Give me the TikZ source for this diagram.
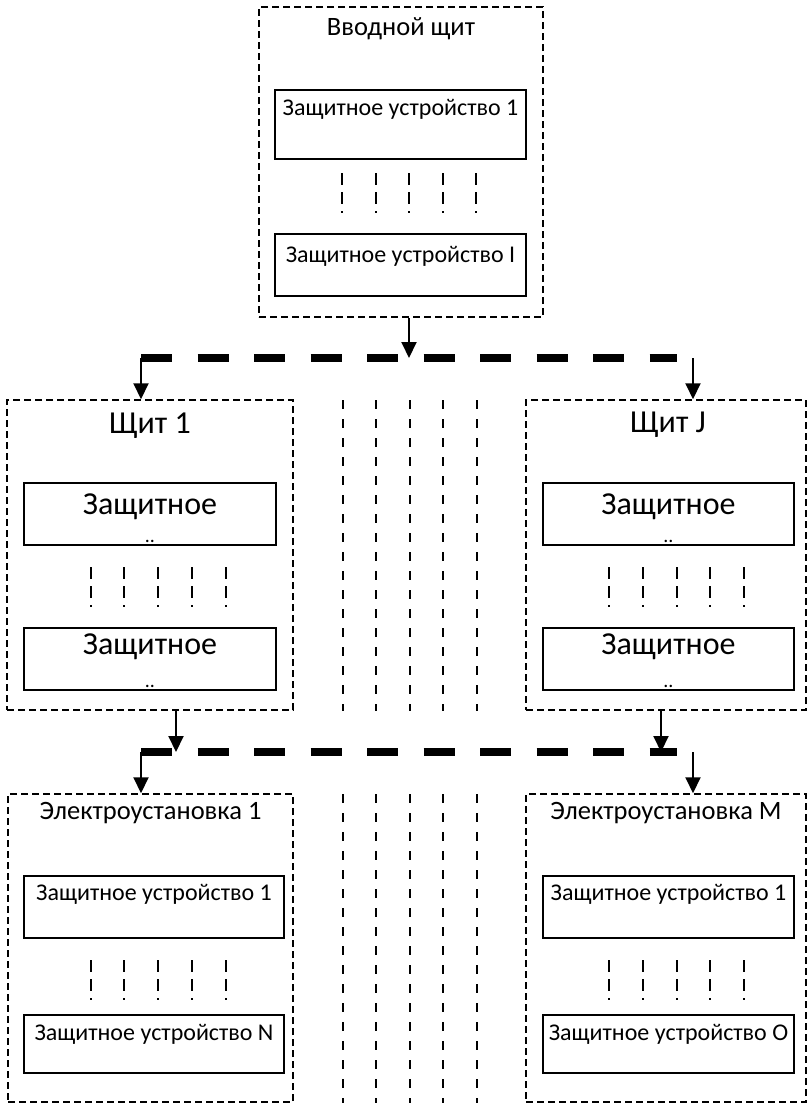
\documentclass[tikz,border=0pt]{standalone}
\usepackage{fontspec}
\setmainfont{Carlito}
\usetikzlibrary{arrows.meta}

\begin{document}
\begin{tikzpicture}[x=1pt,y=-1pt,
  panel/.style={draw,dash pattern=on 7pt off 4pt,line width=1.5pt,inner sep=0pt},
  dev/.style={draw,line width=1.8pt,inner sep=0pt,minimum width=251pt,minimum height=62pt},
  head/.style={anchor=north,inner sep=0pt,font=\fontsize{26.5}{31}\selectfont},
  bighead/.style={anchor=north,inner sep=0pt,font=\fontsize{32}{37}\selectfont},
  devname/.style={anchor=north,inner sep=0pt,font=\fontsize{24}{29}\selectfont},
  cut/.style={anchor=south,inner sep=0pt,font=\fontsize{20}{22}\selectfont},
  bus/.style={line width=7.5pt,dash pattern=on 31pt off 25.5pt},
  feed/.style={line width=2pt,-{Triangle[length=16pt,width=15pt]}},
  etc/.style={line width=2.5pt,dash pattern=on 12pt off 7pt},
  trunk/.style={line width=2.5pt,dash pattern=on 9pt off 10pt}]
\useasboundingbox[fill=white] (0,0) rectangle (807,1103);

% вводной щит
\node[panel,minimum width=284pt,minimum height=310pt] (vvod) at (401,162) {};
\node[head] (vvodt) at ([yshift=-11pt]vvod.north) {Вводной щит};
\node[dev,minimum height=69pt] (d11) at (400.5,124.5) {};
\node[devname] (d11t) at ([yshift=-10pt]d11.north) {Защитное устройство 1};
\node[dev] (d12) at (400.5,265) {};
\node[devname] (d12t) at ([yshift=-13pt]d12.north) {Защитное устройство I};
\foreach \x in {342,376,409,443,476} \draw[etc] (\x,173) -- (\x,213);

% щиты
\node[panel,minimum width=286pt,minimum height=310pt] (shch1) at (150,555) {};
\node[bighead] (shch1t) at ([yshift=-13pt]shch1.north) {Щит 1};
\node[dev,minimum width=252pt] (d21) at (150,514) {};
\node[bighead] (d21t) at ([yshift=-11pt]d21.north) {Защитное};
\node[cut] (d21c) at ([yshift=3pt]d21.south) {..};
\node[dev,minimum width=252pt] (d22) at (150,659) {};
\node[bighead] (d22t) at ([yshift=-6pt]d22.north) {Защитное};
\node[cut] (d22c) at ([yshift=3pt]d22.south) {..};
\foreach \x in {91,124,158,192,226} \draw[etc] (\x,567) -- (\x,607);

\node[panel,minimum width=280pt,minimum height=310pt] (shchJ) at (666,555) {};
\node[bighead] (shchJt) at ([yshift=-13pt,xshift=2pt]shchJ.north) {Щит J};
\node[dev] (d31) at (668.5,514) {};
\node[bighead] (d31t) at ([yshift=-11pt]d31.north) {Защитное};
\node[cut] (d31c) at ([yshift=3pt]d31.south) {..};
\node[dev] (d32) at (668.5,659) {};
\node[bighead] (d32t) at ([yshift=-6pt]d32.north) {Защитное};
\node[cut] (d32c) at ([yshift=3pt]d32.south) {..};
\foreach \x in {609,643,677,710,744} \draw[etc] (\x,567) -- (\x,607);

% электроустановки
\node[panel,minimum width=285pt,minimum height=308pt] (el1) at (150.5,948) {};
\node[head] (el1t) at ([yshift=-9pt]el1.north) {Электроустановка 1};
\node[dev,minimum width=260pt] (d41) at (154,907) {};
\node[devname] (d41t) at ([yshift=-9pt]d41.north) {Защитное устройство 1};
\node[dev,minimum width=260pt,minimum height=58pt] (d42) at (154,1044) {};
\node[devname] (d42t) at ([yshift=-10pt]d42.north) {Защитное устройство N};
\foreach \x in {91,124,158,192,226} \draw[etc] (\x,960) -- (\x,1000);

\node[panel,minimum width=280pt,minimum height=308pt] (elM) at (666,948) {};
\node[head] (elMt) at ([yshift=-9pt]elM.north) {Электроустановка M};
\node[dev] (d51) at (668.5,907) {};
\node[devname] (d51t) at ([yshift=-9pt]d51.north) {Защитное устройство 1};
\node[dev,minimum height=58pt] (d52) at (668.5,1044) {};
\node[devname] (d52t) at ([yshift=-10pt]d52.north) {Защитное устройство O};
\foreach \x in {609,643,677,710,744} \draw[etc] (\x,960) -- (\x,1000);

\foreach \x in {343,376,410,443,477} \draw[trunk] (\x,400) -- (\x,711) (\x,794) -- (\x,1103);

% шины и отводы
\coordinate (b1) at (141,358);
\coordinate (b1e) at (677,358);
\coordinate (b2) at (141,752);
\coordinate (b2e) at (677,752);
\draw[bus] (b1) -- (b1e);
\draw[bus] (b2) -- (b2e);
\draw[feed] ([xshift=8pt]vvod.south) -- ([xshift=8pt]vvod.south |- b1);
\draw[feed] (b1) -- (b1 |- shch1.north);
\draw[feed] ([xshift=27pt]shchJ.north |- b1) -- ([xshift=27pt]shchJ.north);
\draw[feed] ([xshift=26pt]shch1.south) -- ([xshift=26pt]shch1.south |- b2);
\draw[feed] ([xshift=-5pt]shchJ.south) -- ([xshift=-5pt]shchJ.south |- b2);
\draw[feed] (b2) -- (b2 |- el1.north);
\draw[feed] ([xshift=27pt]elM.north |- b2) -- ([xshift=27pt]elM.north);
\end{tikzpicture}
\end{document}
